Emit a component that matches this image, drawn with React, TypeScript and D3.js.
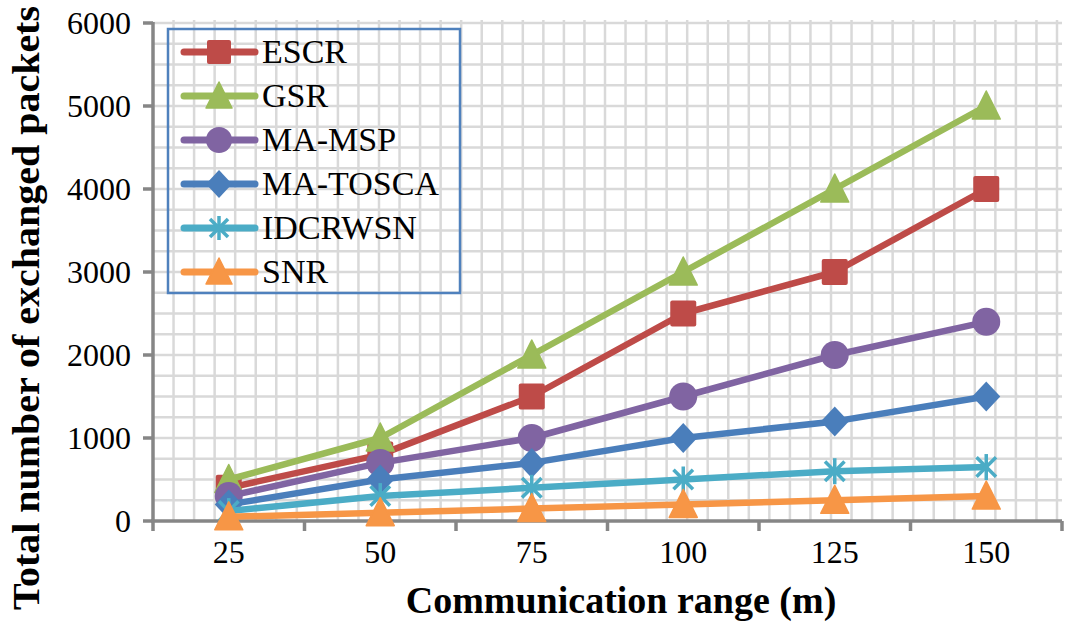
import React from "react";
import * as d3 from "d3";

const categories = ["25", "50", "75", "100", "125", "150"];
const yTicks = [0, 1000, 2000, 3000, 4000, 5000, 6000];
const seriesNames = ["ESCR", "GSR", "MA-MSP", "MA-TOSCA", "IDCRWSN", "SNR"];
const escr = [400, 800, 1500, 2500, 3000, 4000];
const gsr = [500, 1000, 2000, 3000, 4000, 5000];
const maMsp = [300, 700, 1000, 1500, 2000, 2400];
const maTosca = [200, 500, 700, 1000, 1200, 1500];
const idcrwsn = [120, 300, 400, 500, 600, 650];
const snr = [50, 100, 150, 200, 250, 300];
const seriesColors = ["#be4b48", "#9bbb59", "#8064a2", "#4a7ebb", "#4bacc6", "#f79646"];
const seriesMarkers = ["square", "triangle", "circle", "diamond", "asterisk", "triangle"];
const seriesValues = [escr, gsr, maMsp, maTosca, idcrwsn, snr];

const W = 1072, H = 628;
const L = 153, R = 1062, T = 23, B = 521;
const FONT = "serif";

function Marker({ type, x, y, color, s }: { type: string; x: number; y: number; color: string; s: number }) {
  const h = s / 2;
  if (type === "square") return <rect x={x - h} y={y - h} width={s} height={s} rx={2} fill={color} />;
  if (type === "circle") return <circle cx={x} cy={y} r={h + 1} fill={color} />;
  if (type === "diamond")
    return <path d={`M${x},${y - h - 2}L${x + h + 1},${y}L${x},${y + h + 2}L${x - h - 1},${y}Z`} fill={color} />;
  if (type === "triangle")
    return <path d={`M${x},${y - h - 2}L${x + h + 1},${y + h}L${x - h - 1},${y + h}Z`} fill={color} stroke={color} strokeWidth={1.5} strokeLinejoin="round" />;
  const a = h;
  const d = a * 0.75;
  return (
    <g stroke={color} strokeWidth={3.5}>
      <line x1={x} y1={y - a} x2={x} y2={y + a} />
      <line x1={x - d} y1={y - d} x2={x + d} y2={y + d} />
      <line x1={x - d} y1={y + d} x2={x + d} y2={y - d} />
    </g>
  );
}

export default function App() {
  const x = d3.scaleBand<string>().domain(categories).range([L, R]).padding(0);
  const y = d3.scaleLinear().domain([0, 6000]).range([B, T]);
  const cx = (c: string) => (x(c) as number) + x.bandwidth() / 2;
  const line = d3
    .line<number>()
    .x((_, i) => cx(categories[i]))
    .y((v) => y(v));

  const minorY = d3.range(250, 6001, 250);
  const minorX = d3.range(1, 45).map((k) => L + k * ((R - 5 - L) / 44));

  const legendX = 168, legendY = 29, legendW = 292, legendH = 264;
  const rowH = 44;

  return (
    <svg width={W} height={H} style={{ position: "absolute", left: 0, top: 0, background: "#fff" }}>
      <rect width={W} height={H} fill="#fff" />
      <g stroke="#d9d9d9" strokeWidth={2.5}>
        {minorY.map((v) => (
          <line key={"h" + v} x1={L} x2={R} y1={y(v)} y2={y(v)} />
        ))}
        {minorX.map((gx, i) => (
          <line key={"v" + i} x1={gx} x2={gx} y1={T - 3} y2={B} />
        ))}
      </g>
      <g stroke="#868686" strokeWidth={3.5}>
        <line x1={L} x2={L} y1={T - 1} y2={B} />
        <line x1={L - 2} x2={R} y1={B} y2={B} />
        {yTicks.map((t) => (
          <line key={"yt" + t} x1={L - 10} x2={L} y1={y(t)} y2={y(t)} />
        ))}
        {d3.range(0, categories.length + 1).map((i) => {
          const px = i < categories.length ? (x(categories[i]) as number) : R;
          return <line key={"xt" + i} x1={px} x2={px} y1={B} y2={B + 10} />;
        })}
      </g>
      {yTicks.map((t) => (
        <text key={"yl" + t} x={131} y={y(t) + 11} textAnchor="end" style={{ fontFamily: FONT, fontSize: 32 }}>
          {t}
        </text>
      ))}
      {categories.map((c) => (
        <text key={"xl" + c} x={cx(c)} y={563} textAnchor="middle" style={{ fontFamily: FONT, fontSize: 32 }}>
          {c}
        </text>
      ))}
      <text x={621} y={613} textAnchor="middle" style={{ fontFamily: FONT, fontWeight: "bold", fontSize: 38 }}>
        Communication range (m)
      </text>
      <text
        transform={`translate(39,${308}) rotate(-90)`}
        textAnchor="middle"
        style={{ fontFamily: FONT, fontWeight: "bold", fontSize: 38 }}
        textLength={604}
        lengthAdjust="spacingAndGlyphs"
      >
        Total number of exchanged packets
      </text>
      {seriesValues.map((vals, si) => (
        <g key={"s" + si}>
          <path d={line(vals) || ""} fill="none" stroke={seriesColors[si]} strokeWidth={6.5} strokeLinejoin="round" />
          {vals.map((v, i) => (
            <Marker key={i} type={seriesMarkers[si]} x={cx(categories[i])} y={y(v)} color={seriesColors[si]} s={26} />
          ))}
        </g>
      ))}
      <rect x={legendX} y={legendY} width={legendW} height={legendH} fill="none" stroke="#4f81bd" strokeWidth={2.5} />
      {seriesNames.map((n, i) => {
        const ly = 52 + i * rowH;
        return (
          <g key={"lg" + n}>
            <line x1={184} x2={255} y1={ly} y2={ly} stroke={seriesColors[i]} strokeWidth={7} strokeLinecap="round" />
            <Marker type={seriesMarkers[i]} x={219} y={ly} color={seriesColors[i]} s={24} />
            <text x={262} y={ly + 11} style={{ fontFamily: FONT, fontSize: 34 }} fill="#000">
              {n}
            </text>
          </g>
        );
      })}
    </svg>
  );
}
